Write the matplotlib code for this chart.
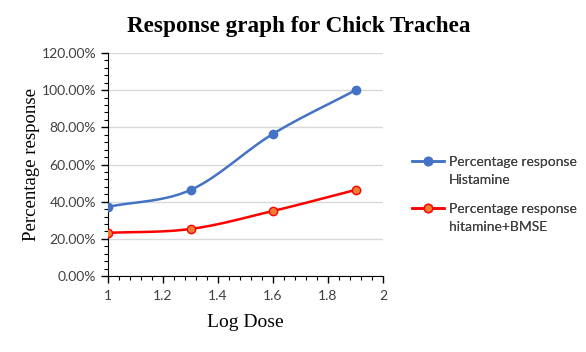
import matplotlib
matplotlib.use("Agg")
import matplotlib.pyplot as plt
import numpy as np
from matplotlib.ticker import MultipleLocator, FuncFormatter
from matplotlib.lines import Line2D

log_dose = [1.0, 1.3, 1.6, 1.9]
resp_histamine = [37.2, 46.3, 76.5, 100.0]
resp_hist_bmse = [23.2, 25.3, 35.0, 46.3]
labels = [["Percentage response", "Histamine"], ["Percentage response", "hitamine+BMSE"]]


def smooth(xs, ys, n=40):
    """Catmull-Rom curve through the points, like Excel's smoothed line"""
    xs = np.asarray(xs, float)
    ys = np.asarray(ys, float)
    px = np.concatenate([[2 * xs[0] - xs[1]], xs, [2 * xs[-1] - xs[-2]]])
    py = np.concatenate([[2 * ys[0] - ys[1]], ys, [2 * ys[-1] - ys[-2]]])
    outx, outy = [], []
    t = np.linspace(0, 1, n)
    for i in range(1, len(px) - 2):
        for p, out in ((px, outx), (py, outy)):
            p0, p1, p2, p3 = p[i - 1], p[i], p[i + 1], p[i + 2]
            c1 = p1 + (p2 - p0) / 6
            c2 = p2 - (p3 - p1) / 6
            out.extend((1 - t) ** 3 * p1 + 3 * (1 - t) ** 2 * t * c1
                       + 3 * (1 - t) * t ** 2 * c2 + t ** 3 * p2)
    return outx, outy


fig = plt.figure(figsize=(5.86, 3.52), dpi=100)
ax = fig.add_axes([0.1843, 0.2159, 0.4693, 0.6335])

blue = "#4472C4"
red = "#FF0000"

sx, sy = smooth(log_dose, resp_histamine)
ax.plot(sx, sy, color=blue, lw=1.8, zorder=3)
ax.plot(log_dose, resp_histamine, "o", color=blue, ms=6, zorder=4)
sx, sy = smooth(log_dose, resp_hist_bmse)
ax.plot(sx, sy, color=red, lw=1.8, zorder=3)
ax.plot(log_dose, resp_hist_bmse, "o", mfc="#ED7D31", mec=red, mew=1.0, ms=6, zorder=4)

h1 = Line2D([], [], marker="o", color=blue, lw=1.8, ms=6)
h2 = Line2D([], [], marker="o", color=red, mfc="#ED7D31", mec=red, lw=1.8, ms=6)
blank = Line2D([], [], lw=0)

ax.set_xlim(1, 2)
ax.set_ylim(0, 120)
ax.xaxis.set_major_locator(MultipleLocator(0.2))
ax.xaxis.set_minor_locator(MultipleLocator(0.04))
ax.yaxis.set_major_locator(MultipleLocator(20))
ax.yaxis.set_minor_locator(MultipleLocator(4))
ax.yaxis.set_major_formatter(FuncFormatter(lambda v, p: "%.2f%%" % v))
ax.xaxis.set_major_formatter(FuncFormatter(lambda v, p: "%g" % round(v, 2)))
ax.grid(axis="y", color="#D9D9D9", lw=1)
ax.set_axisbelow(True)
for s in ("top", "right"):
    ax.spines[s].set_visible(False)
for s in ("left", "bottom"):
    ax.spines[s].set_color("black")
ax.tick_params(which="major", direction="out", length=5, width=1, labelsize=10,
               colors="black", labelcolor="#404040")
ax.tick_params(axis="x", which="major", pad=5)
ax.tick_params(which="minor", direction="out", length=3, width=0.8, colors="black")
for lab in ax.get_xticklabels() + ax.get_yticklabels():
    lab.set_family("Lato")

serif = "Liberation Serif"
fig.text(0.51, 0.925, "Response graph for Chick Trachea", family=serif, weight="bold",
         fontsize=16.7, ha="center", va="center")
ax.set_ylabel("Percentage response", family=serif, fontsize=13.5, labelpad=1)
ax.set_xlabel("Log Dose", family=serif, fontsize=14, labelpad=9)

# two legend blocks, handle beside the first text line as in Excel
for i, (h, lab, ytop) in enumerate([(h1, labels[0], 156), (h2, labels[1], 203)]):
    leg = fig.legend([h, blank], lab, loc="upper left",
                     bbox_to_anchor=(412 / 586, 1 - ytop / 352),
                     frameon=False, prop={"family": "Lato", "size": 10},
                     handlelength=2.3, labelspacing=0.45, handletextpad=0.36,
                     borderpad=0, borderaxespad=0)
    for t in leg.get_texts():
        t.set_color("#404040")
    fig.add_artist(leg)

fig.savefig("out.png", dpi=100)
